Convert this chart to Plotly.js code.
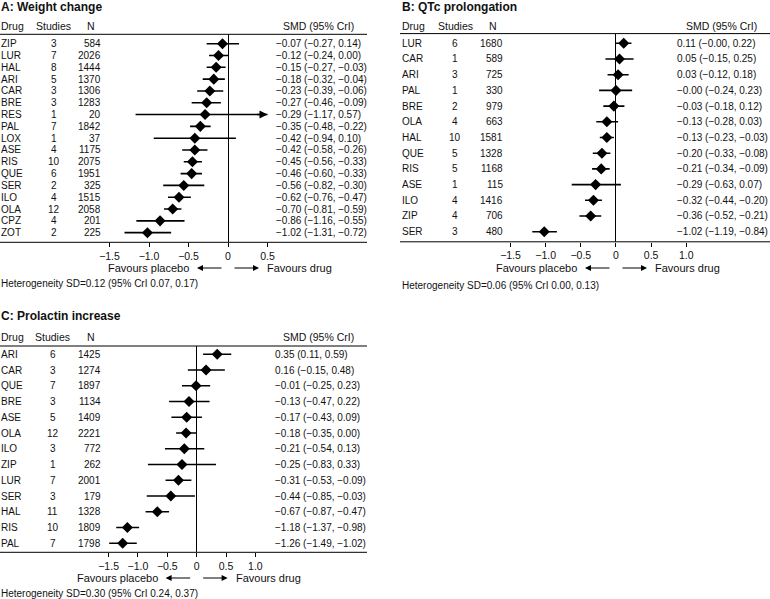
<!DOCTYPE html>
<html>
<head>
<meta charset="utf-8">
<script src="https://cdn.plot.ly/plotly-3.0.1.min.js"></script>
<style>html,body{margin:0;padding:0;background:#fff;}#chart{width:770px;height:599px;}</style>
</head>
<body>
<div id="chart"></div>
<script>
// ---------- DATA ----------
// A: Weight change
const drugsA   = ['ZIP','LUR','HAL','ARI','CAR','BRE','RES','PAL','LOX','ASE','RIS','QUE','SER','ILO','OLA','CPZ','ZOT'];
const studiesA = [3,7,8,5,3,3,1,7,1,4,10,6,2,4,12,4,2];
const nA       = [584,2026,1444,1370,1306,1283,20,1842,37,1175,2075,1951,325,1515,2058,201,225];
const smdA     = [-0.07,-0.12,-0.15,-0.18,-0.23,-0.27,-0.29,-0.35,-0.42,-0.42,-0.45,-0.46,-0.56,-0.62,-0.70,-0.86,-1.02];
const loA      = [-0.27,-0.24,-0.27,-0.32,-0.39,-0.46,-1.17,-0.48,-0.94,-0.58,-0.56,-0.60,-0.82,-0.76,-0.81,-1.16,-1.31];
const hiA      = [0.14,0.00,-0.03,-0.04,-0.06,-0.09,0.57,-0.22,0.10,-0.26,-0.33,-0.33,-0.30,-0.47,-0.59,-0.55,-0.72];
const ticksA   = [-1.5,-1.0,-0.5,0,0.5];

// B: QTc prolongation
const drugsB   = ['LUR','CAR','ARI','PAL','BRE','OLA','HAL','QUE','RIS','ASE','ILO','ZIP','SER'];
const studiesB = [6,1,3,1,2,4,10,5,5,1,4,4,3];
const nB       = [1680,589,725,330,979,663,1581,1328,1168,115,1416,706,480];
const smdB     = [0.11,0.05,0.03,-0.00,-0.03,-0.13,-0.13,-0.20,-0.21,-0.29,-0.32,-0.36,-1.02];
const loB      = [-0.00,-0.15,-0.12,-0.24,-0.18,-0.28,-0.23,-0.33,-0.34,-0.63,-0.44,-0.52,-1.19];
const hiB      = [0.22,0.25,0.18,0.23,0.12,0.03,-0.03,-0.08,-0.09,0.07,-0.20,-0.21,-0.84];
const ticksB   = [-1.5,-1.0,-0.5,0,0.5,1.0];

// C: Prolactin increase
const drugsC   = ['ARI','CAR','QUE','BRE','ASE','OLA','ILO','ZIP','LUR','SER','HAL','RIS','PAL'];
const studiesC = [6,3,7,3,5,12,3,1,7,3,11,10,7];
const nC       = [1425,1274,1897,1134,1409,2221,772,262,2001,179,1328,1809,1798];
const smdC     = [0.35,0.16,-0.01,-0.13,-0.17,-0.18,-0.21,-0.25,-0.31,-0.44,-0.67,-1.18,-1.26];
const loC      = [0.11,-0.15,-0.25,-0.47,-0.43,-0.35,-0.54,-0.83,-0.53,-0.85,-0.87,-1.37,-1.49];
const hiC      = [0.59,0.48,0.23,0.22,0.09,0.00,0.13,0.33,-0.09,-0.03,-0.47,-0.98,-1.02];
const ticksC   = [-1.5,-1.0,-0.5,0,0.5,1.0];

// ---------- LAYOUT ----------
const W = 770, H = 599;
const FONT = 'Liberation Sans, Arial, Helvetica, sans-serif';
const TXT = '#111';
const ROWF = 10, HEADF = 10.5, TITLEF = 12, FAVF = 11, HETF = 10, TICKF = 10.5;
const px = v => v / W;
const py = v => 1 - v / H;
const MINUS = '\u2212';
function fmt(v){ const neg = v < 0 || Object.is(v, -0); return (neg ? MINUS : '') + Math.abs(v).toFixed(2); }
function tfmt(v){ if (v === 0) return '0'; return (v < 0 ? MINUS : '') + Math.abs(v).toFixed(1); }

const panels = [
  {ax:'', title:'A: Weight change', drugs:drugsA, studies:studiesA, n:nA, smd:smdA, lo:loA, hi:hiA, ticks:ticksA,
   xr:[-1.5,0.5], xpx:[109.5,267.5], ytop:34.3, ybot:242.3, row0:43.7, step:11.81,
   left:0, right:367, cDrug:0, cStud:53.5, cN:102, cSMD:274.5, titleY:7, headY:26, favY:268, hetY:283.5,
   het:'Heterogeneity SD=0.12 (95% CrI 0.07, 0.17)'},
  {ax:'2', title:'B: QTc prolongation', drugs:drugsB, studies:studiesB, n:nB, smd:smdB, lo:loB, hi:hiB, ticks:ticksB,
   xr:[-1.5,1.0], xpx:[510.5,686.3], ytop:33.6, ybot:241.8, row0:43.3, step:15.7,
   left:400, right:770, cDrug:401, cStud:455, cN:503.5, cSMD:675.5, titleY:7, headY:26, favY:268, hetY:285,
   het:'Heterogeneity SD=0.06 (95% CrI 0.00, 0.13)'},
  {ax:'3', title:'C: Prolactin increase', drugs:drugsC, studies:studiesC, n:nC, smd:smdC, lo:loC, hi:hiC, ticks:ticksC,
   xr:[-1.5,1.0], xpx:[108.6,255.35], ytop:346, ybot:552.3, row0:354.3, step:15.75,
   left:0, right:367, cDrug:0, cStud:53, cN:102, cSMD:274, titleY:315.5, headY:336.5, favY:578, hetY:593.5,
   het:'Heterogeneity SD=0.30 (95% CrI 0.24, 0.37)'}
];

const traces = [];
const annotations = [];
const shapes = [];
const layout = {
  width: W, height: H,
  margin: {l:0, r:0, t:0, b:0, pad:0},
  paper_bgcolor: '#fff', plot_bgcolor: 'rgba(0,0,0,0)',
  showlegend: false,
  font: {family: FONT, size: 10, color: TXT}
};

function ann(text, xpx, ypx, anchor, size, bold, extra){
  return Object.assign({
    text: bold ? '<b>' + text + '</b>' : text,
    xref:'paper', yref:'paper', x: px(xpx), y: py(ypx),
    xanchor: anchor, yanchor:'middle', showarrow:false, borderpad:0,
    font:{family: FONT, size: size, color: TXT}
  }, extra || {});
}

panels.forEach(p => {
  const xa = 'xaxis' + p.ax, ya = 'yaxis' + p.ax;
  const xr = 'x' + p.ax, yr = 'y' + p.ax;
  const idx = p.drugs.map((d, i) => i);
  const unit = (p.xpx[1] - p.xpx[0]) / (p.xr[1] - p.xr[0]);
  const zeroPx = p.xpx[0] + (0 - p.xr[0]) * unit;

  layout[xa] = {
    domain: [px(p.xpx[0]), px(p.xpx[1])], range: p.xr, anchor: yr,
    showgrid:false, showline:false, zeroline:true, zerolinecolor:'#000', zerolinewidth:1,
    tickmode:'array', tickvals: p.ticks, ticktext: p.ticks.map(tfmt),
    ticks:'outside', ticklen:4, tickwidth:1, tickcolor:'#000',
    tickfont:{family: FONT, size:TICKF, color: TXT}, fixedrange:true
  };
  layout[ya] = {
    domain: [py(p.ybot), py(p.ytop)], anchor: xr,
    range: [(p.ybot - p.row0) / p.step, (p.ytop - p.row0) / p.step],
    showgrid:false, showline:false, zeroline:false, showticklabels:false, ticks:'', fixedrange:true
  };

  traces.push({
    type:'scatter', mode:'markers', xaxis: xr, yaxis: yr,
    x: p.smd, y: idx,
    marker:{symbol:'diamond', size:8.5, color:'#000'},
    error_x:{type:'data', symmetric:false,
      array: p.hi.map((h, i) => h - p.smd[i]),
      arrayminus: p.smd.map((s, i) => s - p.lo[i]),
      width:0, thickness:1.6, color:'#000'},
    hoverinfo:'skip'
  });

  // clipped intervals -> arrow at axis edge
  p.hi.forEach((h, i) => {
    if (h > p.xr[1]) {
      annotations.push({xref: xr, yref: yr, x: p.xr[1], y: i, ax: -12, ay: 0, axref:'pixel', ayref:'pixel',
        text:'', showarrow:true, arrowhead:2, arrowsize:1, arrowwidth:1.6, arrowcolor:'#000', standoff:0});
    }
  });

  // table rows
  p.drugs.forEach((d, i) => {
    const base = {xref:'paper', yref: yr, y: i, yanchor:'middle', showarrow:false, borderpad:0,
                  font:{family: FONT, size:ROWF, color: TXT}};
    annotations.push(Object.assign({}, base, {text: d, x: px(p.cDrug), xanchor:'left'}));
    annotations.push(Object.assign({}, base, {text: String(p.studies[i]), x: px(p.cStud), xanchor:'center'}));
    annotations.push(Object.assign({}, base, {text: String(p.n[i]), x: px(p.cN), xanchor:'right'}));
    annotations.push(Object.assign({}, base, {
      text: fmt(p.smd[i]) + ' (' + fmt(p.lo[i]) + ', ' + fmt(p.hi[i]) + ')', x: px(p.cSMD), xanchor:'left'}));
  });

  // title, headers
  annotations.push(ann(p.title, p.cDrug, p.titleY, 'left', TITLEF, true));
  annotations.push(ann('Drug', p.cDrug, p.headY, 'left', HEADF, false));
  annotations.push(ann('Studies', p.cStud, p.headY, 'center', HEADF, false));
  annotations.push(ann('N', p.cN - 6, p.headY, 'right', HEADF, false));
  annotations.push(ann('SMD (95% CrI)', p.right - 12, p.headY, 'right', HEADF, false));

  // favours labels and arrows
  annotations.push(ann('Favours placebo', zeroPx - 38, p.favY, 'right', FAVF, false));
  annotations.push(ann('Favours drug', zeroPx + 38, p.favY, 'left', FAVF, false));
  annotations.push({xref:'paper', yref:'paper', x: px(zeroPx - 31), y: py(p.favY), ax: 26, ay: 0,
    text:'', showarrow:true, arrowhead:2, arrowsize:1, arrowwidth:1.2, arrowcolor:'#000', standoff:0});
  annotations.push({xref:'paper', yref:'paper', x: px(zeroPx + 31), y: py(p.favY), ax: -26, ay: 0,
    text:'', showarrow:true, arrowhead:2, arrowsize:1, arrowwidth:1.2, arrowcolor:'#000', standoff:0});

  // heterogeneity
  annotations.push(ann(p.het, p.cDrug, p.hetY, 'left', HETF, false));

  // table rules
  [p.ytop, p.ybot].forEach(yy => {
    shapes.push({type:'line', xref:'paper', yref:'paper', x0: px(p.left), x1: px(p.right), y0: py(yy), y1: py(yy),
      line:{color:'#000', width:1}});
  });
});

layout.annotations = annotations;
layout.shapes = shapes;

Plotly.newPlot('chart', traces, layout, {staticPlot:true, displayModeBar:false});
</script>
</body>
</html>
